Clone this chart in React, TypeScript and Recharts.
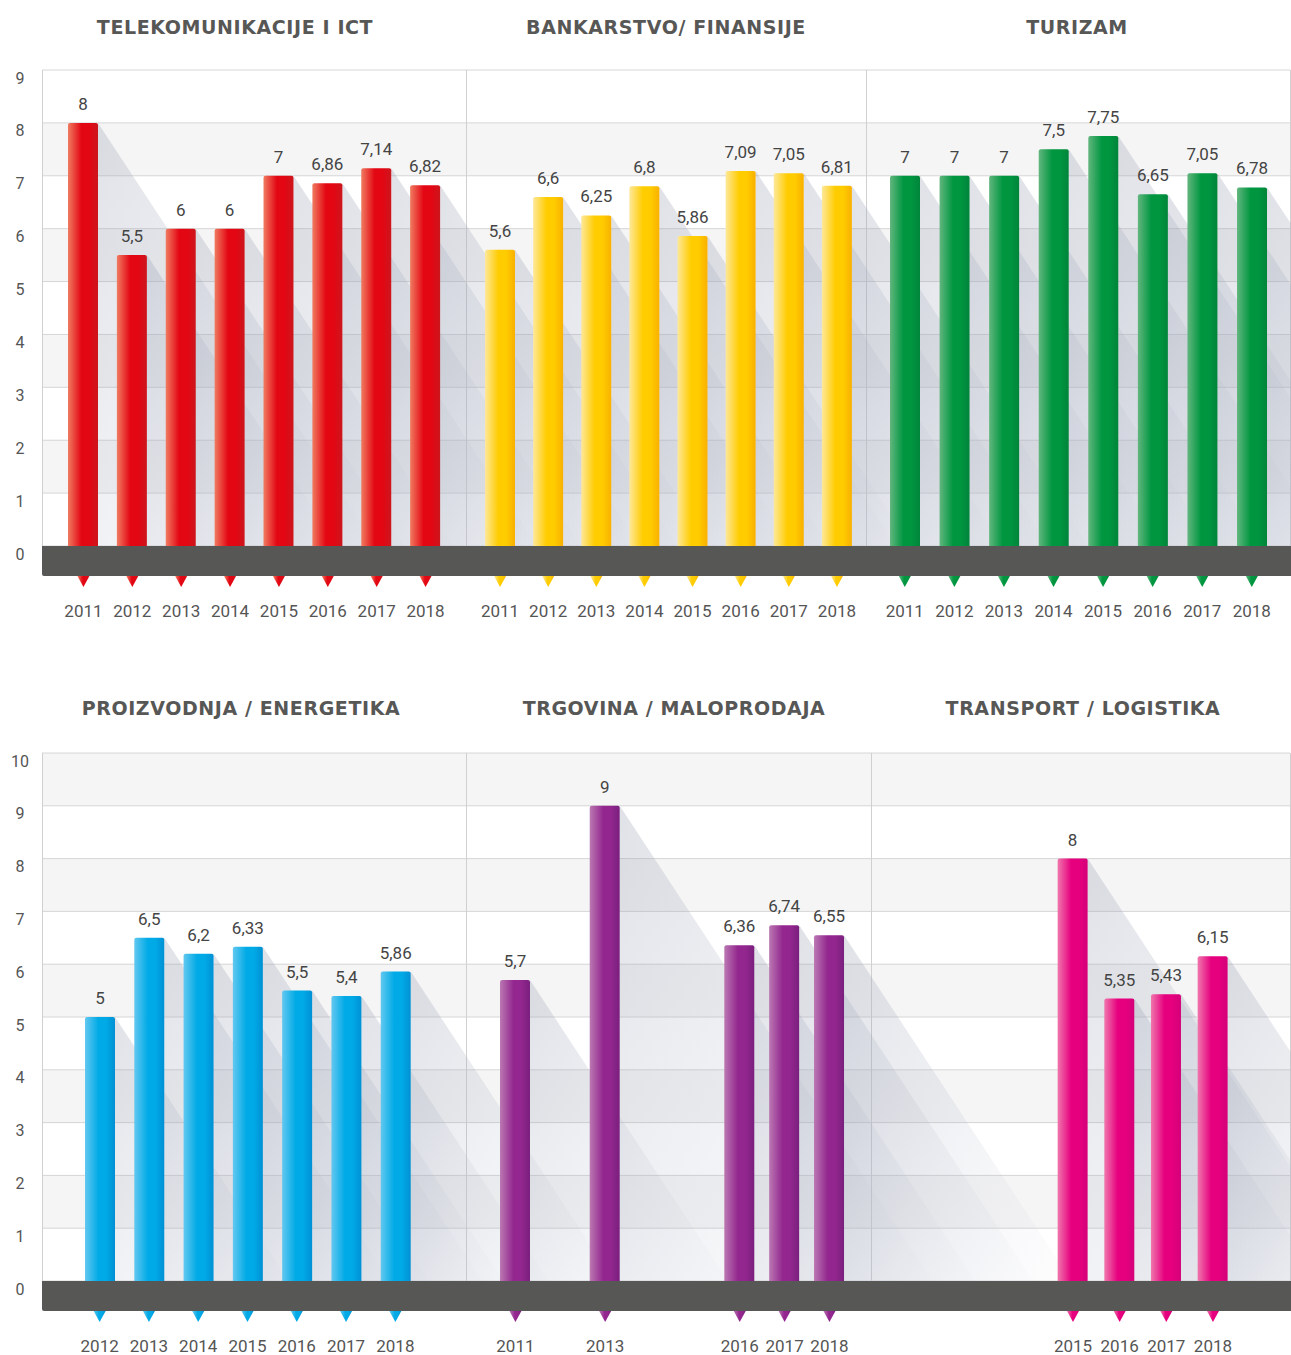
import React from "react";
import { Bar, BarChart, CartesianGrid, LabelList, XAxis, YAxis } from "recharts";

// --- data ---
const yearsAll = ["2011", "2012", "2013", "2014", "2015", "2016", "2017", "2018"];
const yearsProizvodnja = ["2012", "2013", "2014", "2015", "2016", "2017", "2018"];

const telekomValues = [8, 5.5, 6, 6, 7, 6.86, 7.14, 6.82];
const bankarstvoValues = [5.6, 6.6, 6.25, 6.8, 5.86, 7.09, 7.05, 6.81];
const turizamValues = [7, 7, 7, 7.5, 7.75, 6.65, 7.05, 6.78];
const proizvodnjaValues = [5, 6.5, 6.2, 6.33, 5.5, 5.4, 5.86];
const trgovinaValues = [5.7, null, 9, null, null, 6.36, 6.74, 6.55];
const transportValues = [null, null, null, null, 8, 5.35, 5.43, 6.15];

const topTicks = [0, 1, 2, 3, 4, 5, 6, 7, 8, 9];
const bottomTicks = [0, 1, 2, 3, 4, 5, 6, 7, 8, 9, 10];

type Palette = { id: string; light: string; main: string; dark: string };

const red: Palette = { id: "red", light: "#f07b60", main: "#e30613", dark: "#cc161d" };
const yellow: Palette = { id: "yellow", light: "#fee89a", main: "#ffcc00", dark: "#f9b000" };
const green: Palette = { id: "green", light: "#62b67e", main: "#009640", dark: "#00853a" };
const blue: Palette = { id: "blue", light: "#63c8f0", main: "#00aae6", dark: "#0090d4" };
const purple: Palette = { id: "purple", light: "#bb78b2", main: "#93278f", dark: "#7a1f7e" };
const pink: Palette = { id: "pink", light: "#f077ad", main: "#e6007e", dark: "#d40079" };

const SHADOW_SLOPE = 1.52;
const TEXT = "#555555";

const fmt = (v: any) => (v == null ? "" : String(v).replace(".", ","));

function ShadowBar(props: any) {
  const { x, y, width, height, pal } = props;
  if (!height || height <= 0) return null;
  const r = 2;
  const dx = height / SHADOW_SLOPE;
  const d = `M${x},${y + height} L${x},${y + r} Q${x},${y} ${x + r},${y} L${x + width - r},${y} Q${x + width},${y} ${x + width},${y + r} L${x + width},${y + height} Z`;
  return (
    <g>
      <polygon
        points={`${x + width},${y} ${x + width + dx},${y + height} ${x + width},${y + height}`}
        fill="url(#shadow)"
      />
      <path d={d} fill={`url(#grad-${pal.id})`} />
    </g>
  );
}

function YearTick(props: any) {
  const { x, y, payload, pal, values } = props;
  if (values[payload.index] == null) return null;
  return (
    <g>
      <polygon points={`${x - 6},${y + 30} ${x + 6},${y + 30} ${x},${y + 41}`} fill={`url(#grad-${pal.id})`} />
      <text x={x} y={y + 65} textAnchor="middle" dominantBaseline="central" fontFamily="Roboto" fontSize={17} fill={TEXT}>
        {payload.value}
      </text>
    </g>
  );
}

function YTick(props: any) {
  const { y, payload } = props;
  return (
    <text x={20} y={y + 8} textAnchor="middle" dominantBaseline="central" fontFamily="Roboto" fontSize={16} fill={TEXT}>
      {payload.value}
    </text>
  );
}

type PanelProps = {
  years: string[];
  values: (number | null)[];
  pal: Palette;
  left: number;
  width: number;
  top: number;
  height: number;
  axisH: number;
  yMax: number;
};

function Panel({ years, values, pal, left, width, top, height, axisH, yMax }: PanelProps) {
  const data = years.map((year, i) => ({ year, value: values[i] }));
  return (
    <div style={{ position: "absolute", left, top }}>
      <BarChart width={width} height={height} data={data} margin={{ top: 10, right: 0, left: 0, bottom: 0 }}>
        <XAxis
          dataKey="year"
          height={axisH}
          interval={0}
          axisLine={false}
          tickLine={false}
          tickSize={0}
          tickMargin={0}
          tick={(p: any) => <YearTick {...p} pal={pal} values={values} />}
        />
        <YAxis hide domain={[0, yMax]} />
        <Bar dataKey="value" barSize={30} isAnimationActive={false} shape={(p: any) => <ShadowBar {...p} pal={pal} />}>
          <LabelList dataKey="value" position="top" offset={13} formatter={fmt} fill="#444" fontSize={17} fontFamily="Roboto" />
        </Bar>
      </BarChart>
    </div>
  );
}

function Backdrop({ top, height, axisH, yMax, ticks, fills }: any) {
  const data = [{ k: "a", v: 0 }];
  return (
    <div style={{ position: "absolute", left: 0, top }}>
      <BarChart width={1291} height={height} data={data} margin={{ top: 10, right: 1, left: 0, bottom: 0 }}>
        <CartesianGrid vertical={false} stroke="#d6d6d6" horizontalFill={fills} fillOpacity={1} />
        <XAxis dataKey="k" height={axisH} axisLine={false} tickLine={false} tick={false} />
        <YAxis
          type="number"
          domain={[0, yMax]}
          ticks={ticks}
          interval={0}
          width={42}
          axisLine={false}
          tickLine={false}
          tickSize={0}
          tickMargin={0}
          tick={<YTick />}
        />
        <Bar dataKey="v" fill="none" isAnimationActive={false} />
      </BarChart>
    </div>
  );
}

const vline = (x: number, y: number, h: number) => (
  <div key={`v${x}-${y}`} style={{ position: "absolute", left: x, top: y, width: 1, height: h, background: "#d0d0d0" }} />
);

const band = (y: number) => (
  <div style={{ position: "absolute", left: 42, top: y, width: 1249, height: 30, background: "#575756", borderBottomLeftRadius: 2 }} />
);

const title = (text: string, cx: number, cy: number) => (
  <div
    key={text}
    style={{
      position: "absolute",
      left: cx,
      top: cy,
      transform: "translate(-50%, -50%)",
      whiteSpace: "nowrap",
      fontFamily: "'DejaVu Sans'",
      fontWeight: 700,
      fontSize: 19,
      letterSpacing: 0.6,
      color: "#575756",
    }}
  >
    {text}
  </div>
);

const palettes = [red, yellow, green, blue, purple, pink];

export default function App() {
  return (
    <div style={{ position: "absolute", left: 0, top: 0, width: 1291, height: 1355, overflow: "hidden", background: "#fff" }}>
      <style>{`.recharts-surface{overflow:visible}`}</style>
      <svg width={0} height={0} style={{ position: "absolute" }}>
        <defs>
          {palettes.map((p) => (
            <linearGradient key={p.id} id={`grad-${p.id}`} x1="0" y1="0" x2="1" y2="0">
              <stop offset="0%" stopColor={p.light} />
              <stop offset="45%" stopColor={p.main} />
              <stop offset="70%" stopColor={p.main} />
              <stop offset="100%" stopColor={p.dark} />
            </linearGradient>
          ))}
          <linearGradient id="shadow" x1="0" y1="0" x2="1" y2="1">
            <stop offset="0%" stopColor="rgb(150,158,178)" stopOpacity={0.3} />
            <stop offset="100%" stopColor="rgb(190,196,210)" stopOpacity={0.03} />
          </linearGradient>
        </defs>
      </svg>

      {/* top row */}
      <Backdrop top={60} height={566} axisH={80} yMax={9} ticks={topTicks} fills={["#ffffff", "#f5f5f5"]} />
      {vline(42, 70, 476)}
      {vline(466, 70, 476)}
      {vline(866, 70, 476)}
      {vline(1290, 70, 476)}
      {band(546)}
      <Panel years={yearsAll} values={telekomValues} pal={red} left={58.5} width={391} top={60} height={566} axisH={80} yMax={9} />
      <Panel years={yearsAll} values={bankarstvoValues} pal={yellow} left={476} width={385} top={60} height={566} axisH={80} yMax={9} />
      <Panel years={yearsAll} values={turizamValues} pal={green} left={880.2} width={396.6} top={60} height={566} axisH={80} yMax={9} />

      {/* bottom row */}
      <Backdrop top={743} height={612} axisH={74} yMax={10} ticks={bottomTicks} fills={["#f5f5f5", "#ffffff"]} />
      {vline(42, 753, 528)}
      {vline(466, 753, 528)}
      {vline(871, 753, 528)}
      {vline(1290, 753, 528)}
      {band(1281)}
      <Panel years={yearsProizvodnja} values={proizvodnjaValues} pal={blue} left={74.6} width={345} top={743} height={612} axisH={74} yMax={10} />
      <Panel years={yearsAll} values={trgovinaValues} pal={purple} left={492.6} width={358.9} top={743} height={612} axisH={74} yMax={10} />
      <Panel years={yearsAll} values={transportValues} pal={pink} left={863} width={373.3} top={743} height={612} axisH={74} yMax={10} />

      {title("TELEKOMUNIKACIJE I ICT", 235, 27)}
      {title("BANKARSTVO/ FINANSIJE", 666, 27)}
      {title("TURIZAM", 1077, 27)}
      {title("PROIZVODNJA / ENERGETIKA", 241, 708)}
      {title("TRGOVINA / MALOPRODAJA", 674, 708)}
      {title("TRANSPORT / LOGISTIKA", 1083, 708)}
    </div>
  );
}
